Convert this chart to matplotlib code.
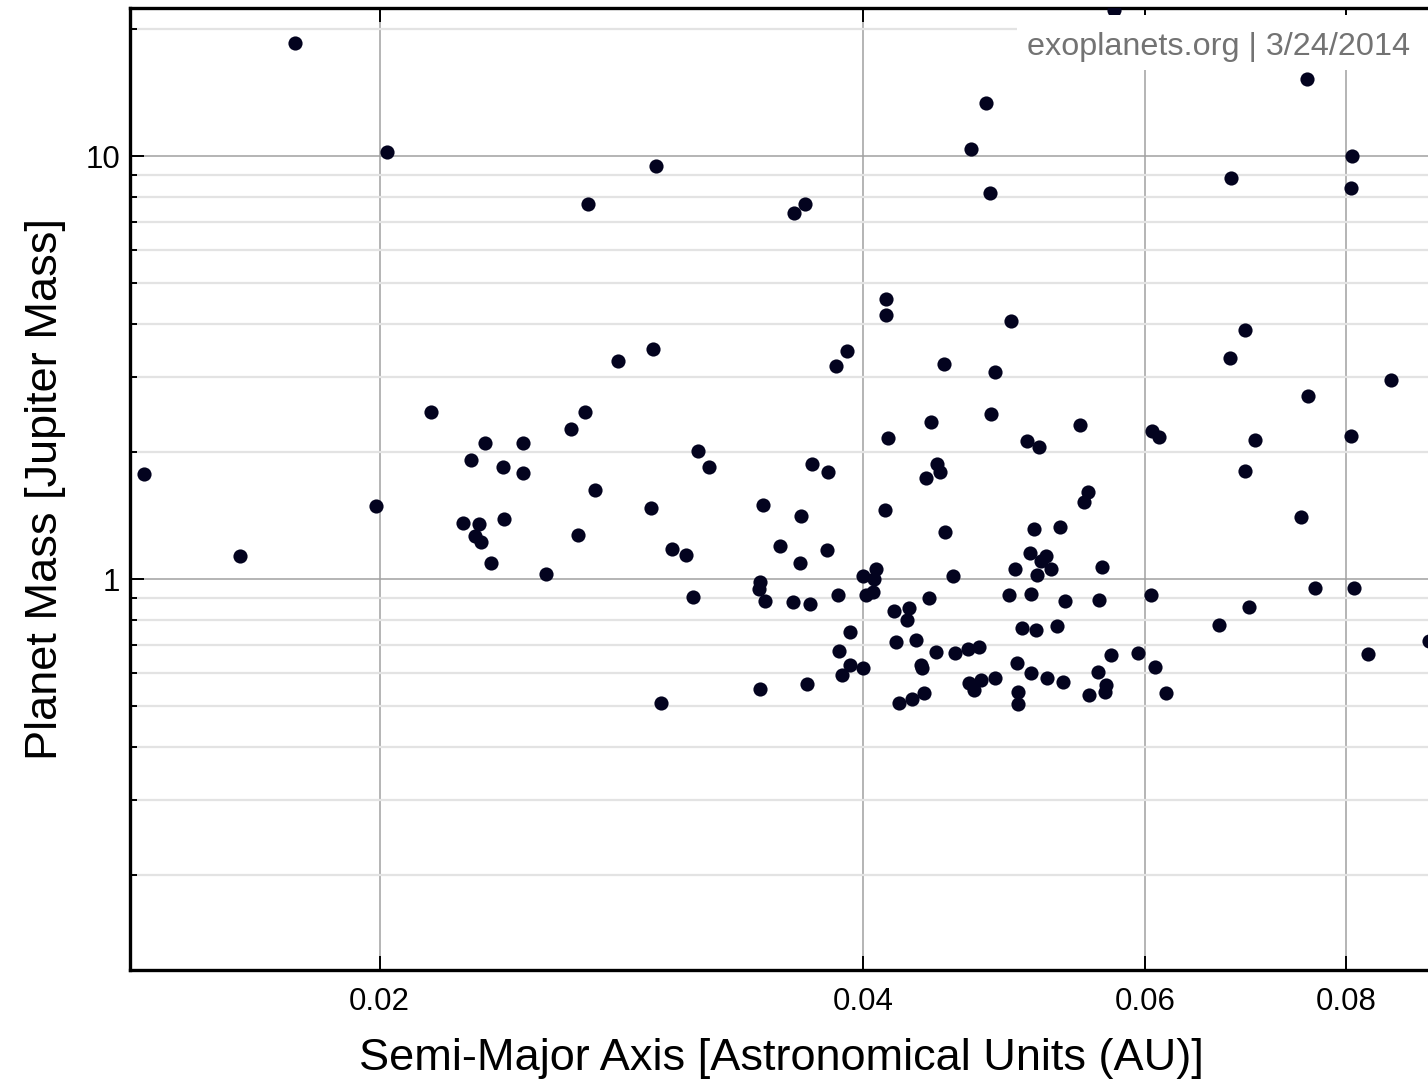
import numpy as np
import matplotlib
matplotlib.use('Agg')
import matplotlib.pyplot as plt
from matplotlib.patches import Rectangle
from matplotlib.ticker import FixedLocator, LogLocator, NullLocator, NullFormatter

plt.rcParams['font.family'] = ['Liberation Sans', 'DejaVu Sans']

# semi-major axis (AU) and planet mass (Jupiter masses)
semi_major_axis = [
    0.01427, 0.01636, 0.01772, 0.01991, 0.02020, 0.02154, 0.02253, 0.02305, 0.02389, 0.02292,
    0.02312, 0.02348, 0.02279, 0.02325, 0.02386, 0.02455, 0.02455, 0.02538, 0.02630, 0.02684,
    0.02657, 0.02723, 0.02695, 0.02814, 0.02959, 0.02972, 0.02951, 0.02993, 0.03041, 0.03103,
    0.03134, 0.03157, 0.03207, 0.03445, 0.03450, 0.03465, 0.03475, 0.03450, 0.03551, 0.03618,
    0.03623, 0.03654, 0.03659, 0.03680, 0.03691, 0.03707, 0.03718, 0.03798, 0.03804, 0.03848,
    0.03859, 0.03864, 0.03881, 0.03909, 0.03926, 0.03926, 0.04000, 0.04000, 0.04017, 0.04058,
    0.04064, 0.04075, 0.04128, 0.04134, 0.04134, 0.04146, 0.04182, 0.04194, 0.04212, 0.04261,
    0.04273, 0.04292, 0.04316, 0.04347, 0.04354, 0.04366, 0.04379, 0.04398, 0.04410, 0.04442,
    0.04448, 0.04468, 0.04493, 0.04500, 0.04552, 0.04565, 0.04651, 0.04658, 0.04671, 0.04691,
    0.04725, 0.04738, 0.04773, 0.04800, 0.04807, 0.04835, 0.04835, 0.04933, 0.04947, 0.04976,
    0.04990, 0.04997, 0.04997, 0.05026, 0.05062, 0.05084, 0.05091, 0.05091, 0.05113, 0.05127,
    0.05135, 0.05150, 0.05164, 0.05202, 0.05209, 0.05239, 0.05285, 0.05307, 0.05330, 0.05345,
    0.05462, 0.05493, 0.05525, 0.05533, 0.05605, 0.05613, 0.05637, 0.05662, 0.05670, 0.05710,
    0.05735, 0.05936, 0.06048, 0.06057, 0.06083, 0.06118, 0.06180, 0.06668, 0.06774, 0.06784,
    0.06922, 0.06922, 0.06962, 0.07022, 0.07501, 0.07566, 0.07577, 0.07653, 0.08059, 0.08059,
    0.08071, 0.08094, 0.08258, 0.08536, 0.09014,
]
planet_mass = [
    1.771, 1.133, 18.50, 1.488, 10.22, 2.482, 1.356, 1.349, 1.386, 1.264,
    1.223, 1.091, 1.911, 2.097, 1.840, 2.097, 1.781, 1.028, 2.263, 2.482,
    1.271, 1.623, 7.700, 3.276, 3.497, 9.471, 1.472, 0.509, 1.177, 1.140,
    0.907, 2.007, 1.840, 0.947, 0.984, 1.496, 0.887, 0.550, 1.197, 0.882,
    7.332, 1.091, 1.409, 7.700, 0.565, 0.873, 1.870, 1.171, 1.790, 3.188,
    0.917, 0.676, 0.593, 3.459, 0.749, 0.626, 1.016, 0.616, 0.917, 0.932,
    1.000, 1.056, 1.456, 4.591, 4.209, 2.154, 0.840, 0.710, 0.509, 0.800,
    0.854, 0.520, 0.717, 0.626, 0.616, 0.538, 1.733, 0.902, 2.351, 0.672,
    1.870, 1.790, 3.223, 1.292, 1.016, 0.668, 0.683, 0.568, 10.39, 0.547,
    0.691, 0.577, 13.34, 8.176, 2.455, 3.086, 0.583, 0.917, 4.073, 1.056,
    0.633, 0.541, 0.506, 0.766, 2.120, 1.152, 0.922, 0.600, 1.313, 0.758,
    1.022, 2.051, 1.103, 1.133, 0.583, 1.056, 0.774, 1.327, 0.571, 0.887,
    2.312, 1.521, 1.606, 0.532, 0.603, 0.892, 1.068, 0.541, 0.562, 0.661,
    22.14, 0.668, 0.917, 2.238, 0.619, 2.166, 0.538, 0.779, 3.330, 8.872,
    3.878, 1.800, 0.859, 2.131, 1.401, 15.21, 2.708, 0.952, 8.401, 2.178,
    10.00, 0.952, 0.665, 2.954, 0.714,
]

x_ticks = [0.02, 0.04, 0.06, 0.08]
x_tick_labels = ['0.02', '0.04', '0.06', '0.08']
y_ticks = [1, 10]
y_tick_labels = ['1', '10']

fig = plt.figure(figsize=(14.28, 10.85), dpi=100)
ax = fig.add_axes([130 / 1428, 115 / 1085, 1302 / 1428, 962 / 1085])

ax.plot(semi_major_axis, planet_mass, 'o', color='#03031f', markersize=10.2,
        markeredgewidth=0, zorder=3, clip_on=True)

ax.set_xscale('log')
ax.set_yscale('log')
ax.set_xlim(0.01398, 0.0905)
ax.set_ylim(0.119, 22.4)

ax.xaxis.set_major_locator(FixedLocator(x_ticks))
ax.set_xticklabels(x_tick_labels)
ax.xaxis.set_minor_locator(NullLocator())
ax.xaxis.set_minor_formatter(NullFormatter())
ax.yaxis.set_major_locator(FixedLocator(y_ticks))
ax.set_yticklabels(y_tick_labels)
ax.yaxis.set_minor_locator(LogLocator(base=10, subs=np.arange(2, 10)))
ax.yaxis.set_minor_formatter(NullFormatter())

ax.set_axisbelow(True)
ax.grid(which='major', color='#a0a0a0', linewidth=1.1)
ax.grid(which='minor', axis='y', color='#e3e3e3', linewidth=1.6)

for s in ['left', 'bottom', 'top']:
    ax.spines[s].set_linewidth(2.4)
    ax.spines[s].set_color('black')
ax.spines['right'].set_visible(False)

ax.tick_params(which='major', direction='in', length=10, width=1.4, color='black',
               labelsize=22.5, top=True, right=False)
ax.tick_params(axis='x', pad=12.5)
ax.tick_params(axis='y', pad=7)
ax.tick_params(which='minor', direction='in', length=5, width=1.4, color='black',
               right=False)

ax.set_xlabel('Semi-Major Axis [Astronomical Units (AU)]', fontsize=32.5, labelpad=15)
ax.set_ylabel('Planet Mass [Jupiter Mass]', fontsize=32.5, labelpad=14)

# white box behind the source note, over the plot area
fig.add_artist(Rectangle((1017 / 1428, 1 - 70 / 1085), 420 / 1428, 55 / 1085,
                         transform=fig.transFigure, facecolor='white',
                         edgecolor='none', zorder=5))
fig.text(1410 / 1428, 1 - 47 / 1085, 'exoplanets.org | 3/24/2014', fontsize=23.3,
         color='#737373', ha='right', va='center', zorder=10)

fig.savefig('out.png', dpi=100)
